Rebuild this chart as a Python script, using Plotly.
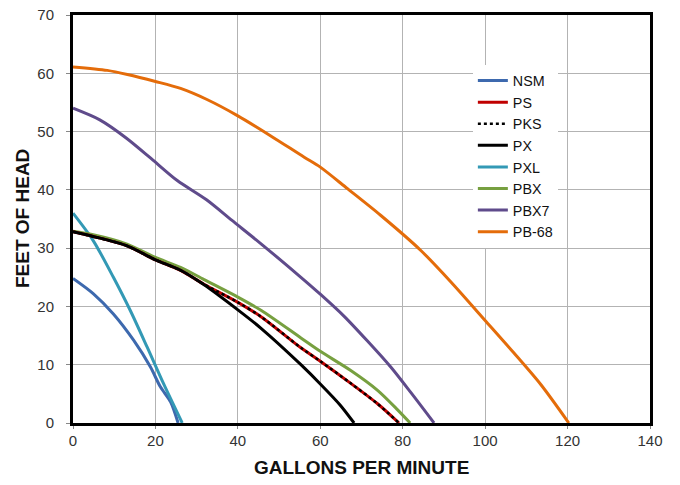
import plotly.graph_objects as go

# pump curves: flow (gpm) vs head (ft)
nsm_x = [0, 4.9, 9.8, 14.7, 18.8, 21.2, 23.7, 25.5]
nsm_y = [24.8, 22.2, 18.7, 14.2, 9.6, 6.2, 3.6, 0]

ps_x = [0, 4.9, 13.1, 20, 26.1, 31.8, 40, 45.7, 55.3, 60, 67.4, 73.9, 79.1]
ps_y = [32.8, 32, 30.4, 28, 26.2, 23.8, 20.7, 18.2, 12.9, 10.6, 6.8, 3.3, 0]

pks_x = ps_x
pks_y = ps_y

px_x = [0, 4.9, 13.1, 20, 26.1, 31.8, 40, 45.7, 55.3, 60, 64.8, 68.2]
px_y = [32.8, 32, 30.4, 28, 26.2, 23.7, 19.4, 16.2, 10.0, 6.7, 3.1, 0]

pxl_x = [0, 4.9, 9.8, 13.9, 18, 22, 26.5]
pxl_y = [36, 31.3, 25, 19.3, 13, 6.7, 0]

pbx_x = [0, 4.9, 13.1, 20, 26.1, 31.8, 40, 45.7, 55.3, 60, 67.4, 73.9, 78.7, 81.8]
pbx_y = [32.9, 32.3, 30.7, 28.4, 26.7, 24.6, 21.6, 19.3, 14.6, 12.3, 9.0, 5.6, 2.3, 0]

pbx7_x = [0, 6.5, 12.9, 19.4, 25.3, 32.4, 38.5, 45.7, 55.3, 60, 65.8, 71.4, 77.1, 82, 87.6]
pbx7_y = [54, 52, 48.9, 45.1, 41.6, 38.3, 34.8, 30.7, 25, 22.1, 18.3, 14.1, 9.6, 5.2, 0]

pb68_x = [0, 8.3, 13.2, 20, 26.1, 32.5, 40, 47.9, 56.1, 60, 66.6, 74.7, 84.4, 91.7, 100, 107, 113.5, 120.3]
pb68_y = [61.1, 60.5, 59.8, 58.6, 57.4, 55.5, 52.7, 49.3, 45.6, 43.9, 40.2, 35.6, 29.6, 24.2, 17.6, 12.0, 6.6, 0]

series = [
    ('NSM', nsm_x, nsm_y, '#3D69AE', 'solid', 3),
    ('PS', ps_x, ps_y, '#C00000', 'solid', 3),
    ('PKS', pks_x, pks_y, '#000000', 'dot', 2.5),
    ('PX', px_x, px_y, '#000000', 'solid', 3),
    ('PXL', pxl_x, pxl_y, '#3399B5', 'solid', 3),
    ('PBX', pbx_x, pbx_y, '#77A040', 'solid', 3),
    ('PBX7', pbx7_x, pbx7_y, '#5F4B8B', 'solid', 3),
    ('PB-68', pb68_x, pb68_y, '#E46C0A', 'solid', 3),
]

# draw order: PS under PX / PKS
order = ['NSM', 'PXL', 'PBX7', 'PB-68', 'PBX', 'PS', 'PX', 'PKS']

fig = go.Figure()
traces = {}
for name, x, y, color, dash, w in series:
    traces[name] = go.Scatter(x=x, y=y, name=name, mode='lines',
                              line=dict(color=color, dash=dash, width=w,
                                        shape='spline', smoothing=0.8))
legend_rank = {s[0]: i for i, s in enumerate(series)}
for name in order:
    t = traces[name]
    t.legendrank = legend_rank[name] + 1
    fig.add_trace(t)

font_family = 'Liberation Sans, Arial, sans-serif'

fig.update_layout(
    width=680, height=485,
    margin=dict(l=73, r=30, t=15, b=62, autoexpand=False),
    paper_bgcolor='white', plot_bgcolor='white',
    font=dict(family=font_family, color='#222222'),
    showlegend=True,
    legend=dict(x=0.693, y=0.878, xanchor='left', yanchor='top',
                bgcolor='white', borderwidth=0,
                font=dict(size=14.3, color='#111111'),
                tracegroupgap=0, itemwidth=30),
)

fig.update_xaxes(range=[0, 140], dtick=20, showgrid=True, gridcolor='#B3B3B3', gridwidth=1,
                 showline=True, mirror=True, linecolor='black', linewidth=3,
                 zeroline=False, ticks='outside', ticklen=3, tickcolor='#888888',
                 ticklabelstandoff=-1, ticklabeloverflow='allow',
                 tickfont=dict(size=15, color='#333333'), automargin=False)
fig.update_yaxes(range=[0, 70], dtick=10, showgrid=True, gridcolor='#B3B3B3', gridwidth=1,
                 showline=True, mirror=True, linecolor='black', linewidth=3,
                 zeroline=False, ticks='outside', ticklen=4, tickcolor='#888888',
                 ticklabelstandoff=9, ticklabeloverflow='allow',
                 tickfont=dict(size=15, color='#333333'), automargin=False)

# axis titles
fig.add_annotation(text='<b>GALLONS PER MINUTE</b>', xref='paper', yref='paper',
                   x=0.5, y=0, yshift=-44, yanchor='middle', showarrow=False,
                   font=dict(size=19, color='#111111'))
fig.add_annotation(text='<b>FEET OF HEAD</b>', xref='paper', yref='paper',
                   x=0, xshift=-51, y=0.5, xanchor='center', textangle=-90, showarrow=False,
                   font=dict(size=19, color='#111111'))

# drop the default page margin so the figure sits at the window's corner
fig.write_html("out.html", config={'displayModeBar': False},
               post_script="document.body.style.margin='0';")
